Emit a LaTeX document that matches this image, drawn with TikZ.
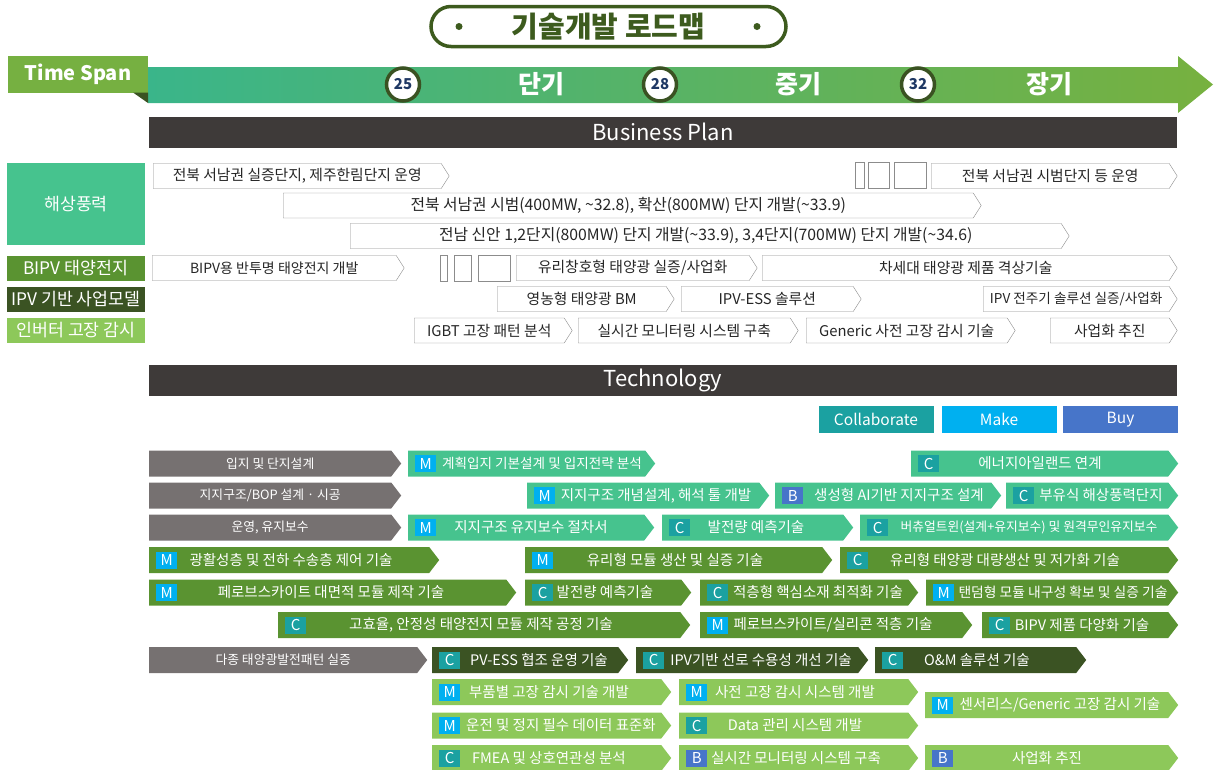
\documentclass[tikz,border=0pt]{standalone}
\usepackage{fontspec}
\setmainfont{Noto Sans CJK KR}
\usetikzlibrary{shapes.symbols, positioning}

\definecolor{titlegreen}{HTML}{3D5B1E}
\definecolor{spangreen}{HTML}{76B041}
\definecolor{darkgreen}{HTML}{3A5222}
\definecolor{navyblue}{HTML}{1F3864}
\definecolor{bandleft}{HTML}{3AB58A}
\definecolor{bandright}{HTML}{77B13F}
\definecolor{bardark}{HTML}{3E3A39}
\definecolor{seagreen}{HTML}{46C38E}
\definecolor{pvgreen}{HTML}{5A9331}
\definecolor{ipvgreen}{HTML}{3B5323}
\definecolor{invgreen}{HTML}{8DC85A}
\definecolor{stepgray}{HTML}{767171}
\definecolor{bordergray}{HTML}{8C8C8C}
\definecolor{textgray}{HTML}{262626}
\definecolor{collabteal}{HTML}{1BA1A1}
\definecolor{makeblue}{HTML}{00B0F0}
\definecolor{buyblue}{HTML}{4775C9}

\begin{document}
\begin{tikzpicture}[x=1pt, y=-1pt,
        titlebox/.style={rectangle, rounded corners=20, draw=titlegreen, line width=3.5, fill=white, minimum width=355, minimum height=40},
        spanbox/.style={rectangle, fill=spangreen, text=white, font=\bfseries\fontsize{20}{22}\selectfont, minimum width=140, minimum height=37, inner sep=0},
        yearmark/.style={circle, draw=darkgreen, line width=3.5, fill=white, text=navyblue, font=\bfseries\fontsize{15}{17}\selectfont, minimum size=33, inner sep=0},
        termtext/.style={text=white, font=\bfseries\fontsize{25}{28}\selectfont},
        headbar/.style={rectangle, fill=bardark, text=white, font=\fontsize{22}{24}\selectfont, minimum width=1028, minimum height=31, inner sep=0},
        catbox/.style={rectangle, text=white, font=\fontsize{17.3}{19}\selectfont, minimum width=138, minimum height=25, inner sep=0},
        planarrow/.style={signal, signal to=east, signal pointer angle=115, draw=bordergray, fill=white, text=textgray, font=\fontsize{14.8}{16}\selectfont, minimum height=25, inner sep=0, anchor=west},
        gapbox/.style={rectangle, draw=bordergray, fill=white, minimum height=26, inner sep=0, anchor=west},
        keybox/.style={rectangle, text=white, font=\fontsize{15.5}{17}\selectfont, minimum width=115, minimum height=27, inner sep=0},
        techarrow/.style={signal, signal to=east, signal pointer angle=105, minimum height=26, inner sep=0, anchor=west},
        stepitem/.style={techarrow, fill=stepgray, text=white, font=\fontsize{12.8}{14}\selectfont},
        badge/.style={rectangle, text=white, font=\fontsize{15}{16}\selectfont, minimum width=21, minimum height=17, inner sep=0, anchor=west},
        makebadge/.style={badge, fill=makeblue},
        collabbadge/.style={badge, fill=collabteal},
        buybadge/.style={badge, fill=buyblue},
        techtext/.style={text=white, font=\fontsize{14.5}{16}\selectfont, inner sep=0}]

    \useasboundingbox (0,0) rectangle (1216,769);

    % title
    \node[titlebox] (title) at (608.5,26.5) {};
    \node[circle, fill=titlegreen, minimum size=7, inner sep=0] (dotl) at (459,26.5) {};
    \node[circle, fill=titlegreen, minimum size=7, inner sep=0] (dotr) at (757,26.5) {};
    \node[text=titlegreen, font=\bfseries\fontsize{29}{31}\selectfont] (titletext) at (608.5,26.5) {기술개발 로드맵};

    % time span
    \shade[left color=bandleft, right color=bandright] (148,67) -- (1178,67) -- (1178,56) -- (1213,84.5) -- (1178,113) -- (1178,103) -- (148,103) -- cycle;
    \node[spanbox] (span) at (78,74) {Time Span};
    \fill[darkgreen] (133,92.5) -- (148,92.5) -- (148,103) -- cycle;
    \node[yearmark] (y25) at (403,84.5) {25};
    \node[yearmark] (y28) at (660,84.5) {28};
    \node[yearmark] (y32) at (918,84.5) {32};
    \node[termtext] (short) at (541,84.5) {단기};
    \node[termtext] (mid) at (798,84.5) {중기};
    \node[termtext] (long) at (1049,84.5) {장기};

    % business plan
    \node[headbar] (bplan) at (663,132) {Business Plan};
    \node[catbox, fill=seagreen, minimum height=82] (sea) at (76,204) {해상풍력};
    \node[catbox, fill=pvgreen] (bipv) at (76,268) {BIPV 태양전지};
    \node[catbox, fill=ipvgreen] (ipv) at (76,299) {IPV 기반 사업모델};
    \node[catbox, fill=invgreen] (inv) at (76,330.5) {인버터 고장 감시};

    \node[planarrow, minimum width=296] (p11) at (153,176) {전북 서남권 실증단지, 제주한림단지 운영};
    \node[gapbox, minimum width=9] (g11) at (855,175) {};
    \node[gapbox, minimum width=21] (g12) at (868,175) {};
    \node[gapbox, minimum width=32] (g13) at (894,175) {};
    \node[planarrow, minimum width=246] (p12) at (931,176) {전북 서남권 시범단지 등 운영};
    \node[planarrow, minimum width=698, font=\fontsize{15.8}{17}\selectfont] (p21) at (283,205.5) {전북 서남권 시범(400MW, \textasciitilde32.8), 확산(800MW) 단지 개발(\textasciitilde33.9)};
    \node[planarrow, minimum width=719, font=\fontsize{15.8}{17}\selectfont] (p31) at (350,236) {전남 신안 1,2단지(800MW) 단지 개발(\textasciitilde33.9), 3,4단지(700MW) 단지 개발(\textasciitilde34.6)};
    \node[planarrow, minimum width=252, font=\fontsize{14}{16}\selectfont] (p41) at (152,268) {BIPV용 반투명 태양전지 개발};
    \node[gapbox, minimum width=7] (g41) at (440,268) {};
    \node[gapbox, minimum width=17] (g42) at (454,268) {};
    \node[gapbox, minimum width=32] (g43) at (478,268) {};
    \node[planarrow, minimum width=241] (p42) at (516,268) {유리창호형 태양광 실증/사업화};
    \node[planarrow, minimum width=415] (p43) at (762,268) {차세대 태양광 제품 격상기술};
    \node[planarrow, minimum width=177] (p51) at (497,299) {영농형 태양광 BM};
    \node[planarrow, minimum width=180] (p52) at (681,299) {IPV-ESS 솔루션};
    \node[planarrow, minimum width=194, font=\fontsize{13.6}{15}\selectfont] (p53) at (983,299) {IPV 전주기 솔루션 실증/사업화};
    \node[planarrow, minimum width=158] (p61) at (414,330.5) {IGBT 고장 패턴 분석};
    \node[planarrow, minimum width=220] (p62) at (578,330.5) {실시간 모니터링 시스템 구축};
    \node[planarrow, minimum width=209] (p63) at (806,330.5) {Generic 사전 고장 감시 기술};
    \node[planarrow, minimum width=127] (p64) at (1050,330.5) {사업화 추진};

    % technology
    \node[headbar] (tech) at (663,380.5) {Technology};
    \node[keybox, fill=collabteal] (kcol) at (876,419.5) {Collaborate};
    \node[keybox, fill=makeblue] (kmake) at (999,419.5) {Make};
    \node[keybox, fill=buyblue] (kbuy) at (1120.5,419.5) {Buy};

    % offshore wind
    \node[stepitem, minimum width=252] (a0) at (149,463.5) {입지 및 단지설계};
    \node[techarrow, fill=seagreen, minimum width=247] (a1) at (408,463.5) {};
    \node[makebadge, right=7pt of a1.west] (a1b) {M};
    \node[techtext, font=\fontsize{13.6}{15}\selectfont] (a1t) at (542,463.5) {계획입지 기본설계 및 입지전략 분석};
    \node[techarrow, fill=seagreen, minimum width=267] (a2) at (911,463.5) {};
    \node[collabbadge, right=7pt of a2.west] (a2b) {C};
    \node[techtext] (a2t) at (1040,463.5) {에너지아일랜드 연계};

    \node[stepitem, minimum width=252] (b0) at (149,495.5) {지지구조/BOP 설계 · 시공};
    \node[techarrow, fill=seagreen, minimum width=242] (b1) at (527,495.5) {};
    \node[makebadge, right=7pt of b1.west] (b1b) {M};
    \node[techtext] (b1t) at (656,495.5) {지지구조 개념설계, 해석 툴 개발};
    \node[techarrow, fill=seagreen, minimum width=226] (b2) at (775,495.5) {};
    \node[buybadge, right=7pt of b2.west] (b2b) {B};
    \node[techtext] (b2t) at (899,495.5) {생성형 AI기반 지지구조 설계};
    \node[techarrow, fill=seagreen, minimum width=172] (b3) at (1006,495.5) {};
    \node[collabbadge, right=7pt of b3.west] (b3b) {C};
    \node[techtext] (b3t) at (1101,495.5) {부유식 해상풍력단지};

    \node[stepitem, minimum width=252] (c0) at (149,527.5) {운영, 유지보수};
    \node[techarrow, fill=seagreen, minimum width=246] (c1) at (408,527.5) {};
    \node[makebadge, right=7pt of c1.west] (c1b) {M};
    \node[techtext] (c1t) at (531,527.5) {지지구조 유지보수 절차서};
    \node[techarrow, fill=seagreen, minimum width=191] (c2) at (662,527.5) {};
    \node[collabbadge, right=7pt of c2.west] (c2b) {C};
    \node[techtext] (c2t) at (756,527.5) {발전량 예측기술};
    \node[techarrow, fill=seagreen, minimum width=318] (c3) at (860,527.5) {};
    \node[collabbadge, right=7pt of c3.west] (c3b) {C};
    \node[techtext, font=\fontsize{12.8}{14}\selectfont] (c3t) at (1029,527.5) {버츄얼트윈(설계+유지보수) 및 원격무인유지보수};

    % BIPV
    \node[techarrow, fill=pvgreen, minimum width=290] (d1) at (149,560) {};
    \node[makebadge, right=7pt of d1.west] (d1b) {M};
    \node[techtext] (d1t) at (291,560) {광활성층 및 전하 수송층 제어 기술};
    \node[techarrow, fill=pvgreen, minimum width=307] (d2) at (525,560) {};
    \node[makebadge, right=7pt of d2.west] (d2b) {M};
    \node[techtext] (d2t) at (675,560) {유리형 모듈 생산 및 실증 기술};
    \node[techarrow, fill=pvgreen, minimum width=338] (d3) at (840,560) {};
    \node[collabbadge, right=7pt of d3.west] (d3b) {C};
    \node[techtext] (d3t) at (1005,560) {유리형 태양광 대량생산 및 저가화 기술};

    \node[techarrow, fill=pvgreen, minimum width=367] (e1) at (149,592.5) {};
    \node[makebadge, right=7pt of e1.west] (e1b) {M};
    \node[techtext] (e1t) at (331,592.5) {페로브스카이트 대면적 모듈 제작 기술};
    \node[techarrow, fill=pvgreen, minimum width=166] (e2) at (525,592.5) {};
    \node[collabbadge, right=7pt of e2.west] (e2b) {C};
    \node[techtext] (e2t) at (605,592.5) {발전량 예측기술};
    \node[techarrow, fill=pvgreen, minimum width=218] (e3) at (700,592.5) {};
    \node[collabbadge, right=7pt of e3.west] (e3b) {C};
    \node[techtext] (e3t) at (818,592.5) {적층형 핵심소재 최적화 기술};
    \node[techarrow, fill=pvgreen, minimum width=252] (e4) at (926,592.5) {};
    \node[makebadge, right=7pt of e4.west] (e4b) {M};
    \node[techtext, font=\fontsize{13.8}{15}\selectfont] (e4t) at (1063,592.5) {탠덤형 모듈 내구성 확보 및 실증 기술};

    \node[techarrow, fill=pvgreen, minimum width=412] (f1) at (278,625) {};
    \node[collabbadge, right=7pt of f1.west] (f1b) {C};
    \node[techtext] (f1t) at (481,625) {고효율, 안정성 태양전지 모듈 제작 공정 기술};
    \node[techarrow, fill=pvgreen, minimum width=272] (f2) at (700,625) {};
    \node[makebadge, right=7pt of f2.west] (f2b) {M};
    \node[techtext] (f2t) at (833,625) {페로브스카이트/실리콘 적층 기술};
    \node[techarrow, fill=pvgreen, minimum width=196] (f3) at (982,625) {};
    \node[collabbadge, right=7pt of f3.west] (f3b) {C};
    \node[techtext] (f3t) at (1082,625) {BIPV 제품 다양화 기술};

    % IPV
    \node[stepitem, minimum width=278] (g0) at (149,660) {다종 태양광발전패턴 실증};
    \node[techarrow, fill=ipvgreen, minimum width=196] (g1) at (432,660) {};
    \node[collabbadge, right=7pt of g1.west] (g1b) {C};
    \node[techtext] (g1t) at (539,660) {PV-ESS 협조 운영 기술};
    \node[techarrow, fill=ipvgreen, minimum width=232] (g2) at (636,660) {};
    \node[collabbadge, right=7pt of g2.west] (g2b) {C};
    \node[techtext] (g2t) at (761,660) {IPV기반 선로 수용성 개선 기술};
    \node[techarrow, fill=ipvgreen, minimum width=211] (g3) at (875,660) {};
    \node[collabbadge, right=7pt of g3.west] (g3b) {C};
    \node[techtext] (g3t) at (977,660) {O\&M 솔루션 기술};

    % inverter
    \node[techarrow, fill=invgreen, minimum width=239] (h1) at (432,692) {};
    \node[makebadge, right=7pt of h1.west] (h1b) {M};
    \node[techtext] (h1t) at (549,692) {부품별 고장 감시 기술 개발};
    \node[techarrow, fill=invgreen, minimum width=239] (h2) at (679,692) {};
    \node[makebadge, right=7pt of h2.west] (h2b) {M};
    \node[techtext] (h2t) at (795,692) {사전 고장 감시 시스템 개발};
    \node[techarrow, fill=invgreen, minimum width=253] (h3) at (925,705) {};
    \node[makebadge, right=7pt of h3.west] (h3b) {M};
    \node[techtext] (h3t) at (1060,705) {센서리스/Generic 고장 감시 기술};

    \node[techarrow, fill=invgreen, minimum width=239] (i1) at (432,725.5) {};
    \node[makebadge, right=7pt of i1.west] (i1b) {M};
    \node[techtext] (i1t) at (561,725.5) {운전 및 정지 필수 데이터 표준화};
    \node[techarrow, fill=invgreen, minimum width=239] (i2) at (679,725.5) {};
    \node[collabbadge, right=7pt of i2.west] (i2b) {C};
    \node[techtext] (i2t) at (795,725.5) {Data 관리 시스템 개발};

    \node[techarrow, fill=invgreen, minimum width=239] (j1) at (432,758) {};
    \node[collabbadge, right=7pt of j1.west] (j1b) {C};
    \node[techtext] (j1t) at (549,758) {FMEA 및 상호연관성 분석};
    \node[techarrow, fill=invgreen, minimum width=239] (j2) at (679,758) {};
    \node[buybadge, right=7pt of j2.west] (j2b) {B};
    \node[techtext] (j2t) at (796,758) {실시간 모니터링 시스템 구축};
    \node[techarrow, fill=invgreen, minimum width=253] (j3) at (925,758) {};
    \node[buybadge, right=7pt of j3.west] (j3b) {B};
    \node[techtext] (j3t) at (1047,758) {사업화 추진};

\end{tikzpicture}
\end{document}
